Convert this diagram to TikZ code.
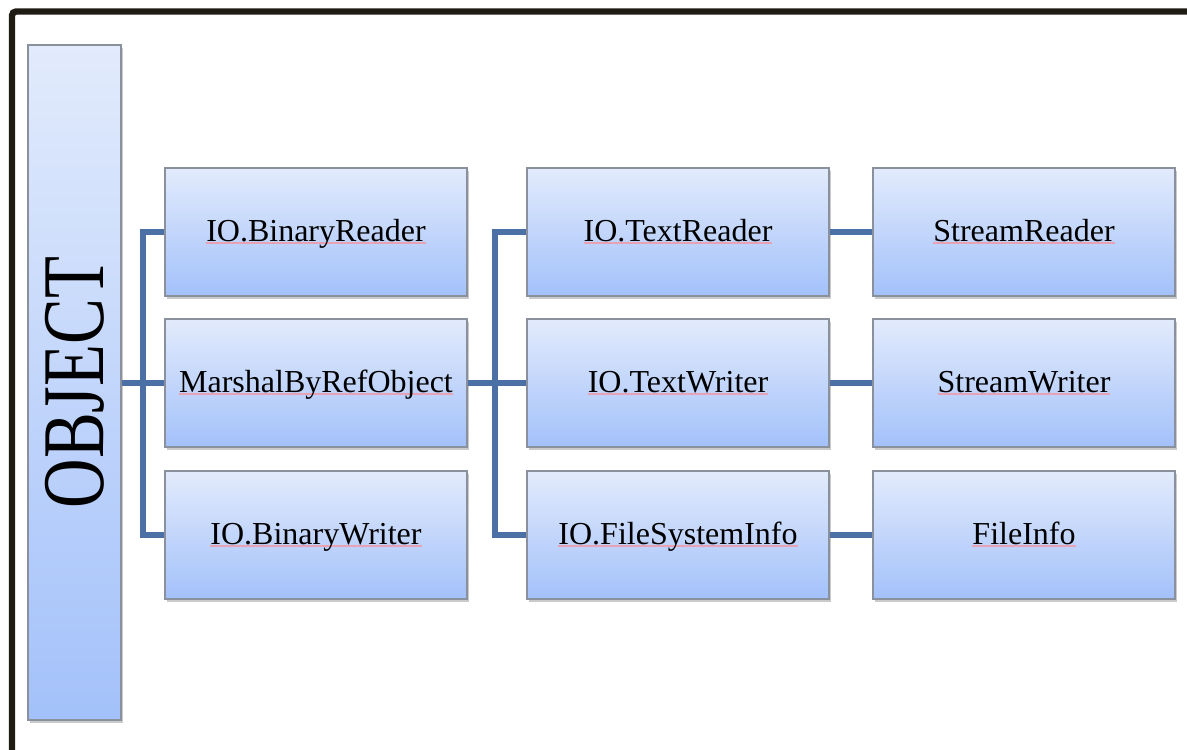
\documentclass[tikz,border=0pt]{standalone}
\usepackage{fontspec}
\setmainfont{Liberation Serif}
\usetikzlibrary{positioning, shadows}
\definecolor{linkblue}{HTML}{4A70A6}
\definecolor{boxtop}{HTML}{E2EBFC}
\definecolor{boxbottom}{HTML}{A3C1FA}
\definecolor{boxedge}{HTML}{8A909C}
\definecolor{spell}{HTML}{E8A2B4}
\definecolor{frameink}{HTML}{1E1C12}
\newcommand{\spellmark}[1]{\setbox0=\hbox{#1}\rlap{\color{spell}\rule[-1.3pt]{\wd0}{0.6pt}}\box0}
\tikzset{
classbox/.style={draw=boxedge, line width=0.8pt, top color=boxtop, bottom color=boxbottom,
  minimum width=151pt, minimum height=64pt, inner sep=0pt,
  text height=11pt, text depth=2pt,
  font=\fontsize{16}{19}\selectfont,
  drop shadow={shadow xshift=1.2pt, shadow yshift=-1.6pt, opacity=0.35, fill=black!60}},
rootbox/.style={classbox, minimum width=46.5pt, minimum height=337.5pt,
  text height=, text depth=},
link/.style={draw=linkblue, line width=2.6pt},
frame/.style={draw=frameink, line width=3.2pt, rounded corners=2pt},
}

\begin{document}
\begin{tikzpicture}[x=0.5pt, y=-0.5pt]
    \useasboundingbox (0,0) rectangle (1187,749);

    % outer frame (only top and left are visible)
    \draw[frame] (12,790) -- (12,11.5) -- (1230,11.5);

    % root node
    \node[rootbox] (obj) at (74.5,382.5)
        {\rotatebox{90}{\fontsize{44}{48}\selectfont\scalebox{0.78}[1]{OBJECT}}};

    %nodes in column 1
    \node[classbox]   (br) at (316,232) {\spellmark{IO.BinaryReader}};
    \node[classbox]  (mbr) at (316,383) {\spellmark{MarshalByRefObject}};
    \node[classbox]   (bw) at (316,535) {\spellmark{IO.BinaryWriter}};

    %nodes in column 2
    \node[classbox]   (tr) at (678,232) {\spellmark{IO.TextReader}};
    \node[classbox]   (tw) at (678,383) {\spellmark{IO.TextWriter}};
    \node[classbox]  (fsi) at (678,535) {\spellmark{IO.FileSystemInfo}};

    %nodes in column 3
    \node[classbox]   (sr) at (1024,232) {\spellmark{StreamReader}};
    \node[classbox]   (sw) at (1024,383) {\spellmark{StreamWriter}};
    \node[classbox]   (fi) at (1024,535) {\spellmark{FileInfo}};

    % branch points
    \coordinate (j1) at (143,383);
    \coordinate (j2) at (495,383);

    %object to column 1
    \draw[link] (obj.east |- mbr.west) -- (mbr.west);
    \draw[link] (br.west) -| (j1) |- (bw.west);

    %column 1 to column 2
    \draw[link] (mbr.east) -- (tw.west);
    \draw[link] (tr.west) -| (j2) |- (fsi.west);

    %column 2 to column 3
    \draw[link] (tr.east) -- (sr.west);
    \draw[link] (tw.east) -- (sw.west);
    \draw[link] (fsi.east) -- (fi.west);

\end{tikzpicture}
\end{document}
